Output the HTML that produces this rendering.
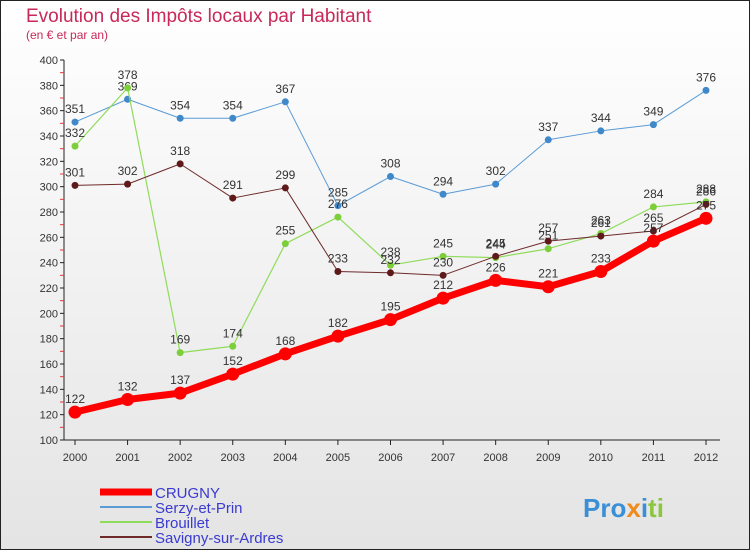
<!DOCTYPE html>
<html><head><meta charset="utf-8"><style>
body{margin:0;width:750px;height:550px;overflow:hidden;font-family:"Liberation Sans",sans-serif}
</style></head><body>
<svg width="750" height="550" xmlns="http://www.w3.org/2000/svg">
<defs><linearGradient id="bg" x1="0" y1="0" x2="0" y2="1"><stop offset="0" stop-color="#ffffff"/><stop offset="1" stop-color="#e4e4e4"/></linearGradient></defs>
<rect x="0.5" y="0.5" width="749" height="549" fill="url(#bg)" stroke="#222"/>
<text x="26" y="22" font-size="19" fill="#c8285a">Evolution des Impôts locaux par Habitant</text>
<text x="26" y="39" font-size="12" fill="#c8285a">(en € et par an)</text>
<g id="axes"></g><g id="series"></g><g id="legend"></g>
<text x="583" y="517" font-size="26" font-weight="bold"><tspan fill="#3a8fd6">Pro</tspan><tspan fill="#f08a1c">x</tspan><tspan fill="#3a8fd6">i</tspan><tspan fill="#8cc63f">ti</tspan></text>
</svg>
<script>
const years=[2000,2001,2002,2003,2004,2005,2006,2007,2008,2009,2010,2011,2012];
const yTicks=[100,120,140,160,180,200,220,240,260,280,300,320,340,360,380,400];
const crugny=[122,132,137,152,168,182,195,212,226,221,233,257,275];
const serzy=[351,369,354,354,367,285,308,294,302,337,344,349,376];
const brouillet=[332,378,169,174,255,276,238,245,244,251,263,284,288];
const savigny=[301,302,318,291,299,233,232,230,245,257,261,265,286];
const NS="http://www.w3.org/2000/svg";
const X=i=>75+i*(706-75)/12;
const Y=v=>440-(v-100)*380/300;
function mk(t,a,p){const e=document.createElementNS(NS,t);for(const k in a)e.setAttribute(k,a[k]);p.appendChild(e);return e;}
const ax=document.getElementById('axes');
let l=mk('line',{x1:64,y1:60,x2:64,y2:440,stroke:'#222'},ax);


l=mk('line',{x1:64,y1:440,x2:720,y2:440,stroke:'#222'},ax);


yTicks.forEach(v=>{mk('line',{x1:60,y1:Y(v),x2:64,y2:Y(v),stroke:'#222'},ax);
 mk('line',{x1:60,y1:Y(v+10),x2:64,y2:Y(v+10),stroke:v<400?'#e33':'none'},ax);
 const t=mk('text',{x:58,y:Y(v)+4,'font-size':11,'text-anchor':'end',fill:'#333'},ax);t.textContent=v;
 
 });
years.forEach((y,i)=>{mk('line',{x1:X(i),y1:440,x2:X(i),y2:445,stroke:'#222'},ax);
 const t=mk('text',{x:X(i),y:461,'font-size':11,'text-anchor':'middle',fill:'#333'},ax);t.textContent=y;
 
 });
const sg=document.getElementById('series');
function draw(data,color,w,r,name,dot){const g=mk('g',{},sg);
 
 
 mk('polyline',{points:data.map((v,i)=>X(i)+','+Y(v)).join(' '),fill:'none',stroke:color,'stroke-width':w,'stroke-linejoin':'round'},g);
 data.forEach((v,i)=>{const c=mk('circle',{cx:X(i),cy:Y(v),r:r,fill:dot},g);
  
  
  const t=mk('text',{x:X(i),y:Y(v)-9,'font-size':12,'text-anchor':'middle',fill:'#333'},g);t.textContent=v;
  
  });}
draw(serzy,'#5a9bd5',1,3.5,'serzy','#3f88c9');
draw(brouillet,'#8fdc5a',1.2,3.5,'brouillet','#7ccf3a');
draw(savigny,'#6e2a2a',1,3.5,'savigny','#5e1a1a');
draw(crugny,'#ff0000',7,6.5,'crugny','#ff0000');
const lg=document.getElementById('legend');
[['CRUGNY','#ff0000',7],['Serzy-et-Prin','#5a9bd5',2],['Brouillet','#8fdc5a',2],['Savigny-sur-Ardres','#6e2a2a',2]].forEach((d,i)=>{
 const y=492+i*15;const g=mk('g',{},lg);
 
 
 mk('line',{x1:100,y1:y,x2:152,y2:y,stroke:d[1],'stroke-width':d[2]},g);
 const t=mk('text',{x:155,y:y+6,'font-size':15,fill:'#3a3ad0'},g);t.textContent=d[0];});
</script>
</body></html>
